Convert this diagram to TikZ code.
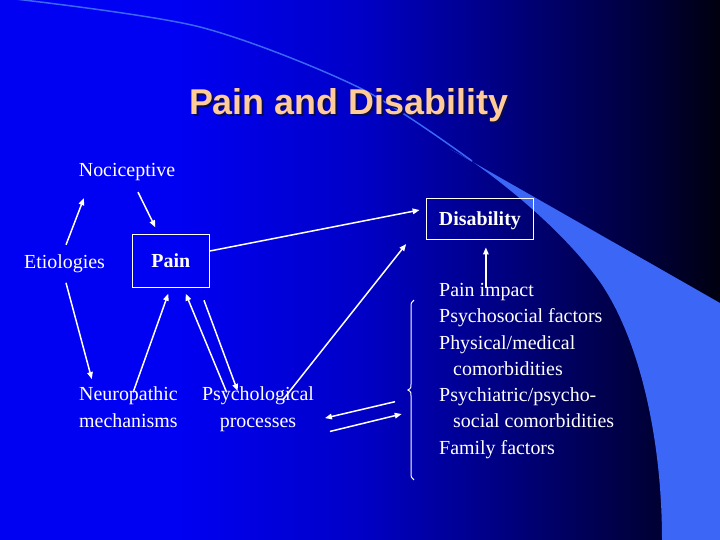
\documentclass[tikz,border=0pt]{standalone}
\usepackage{fontspec}
\setmainfont{Liberation Serif}
\newfontfamily\titlefont{Liberation Sans}
\usetikzlibrary{arrows.meta}
\newcommand\bodysize{\fontsize{20}{26.3}\selectfont}
\definecolor{slideblue}{RGB}{0,0,242}
\definecolor{swooshblue}{RGB}{59,102,246}
\definecolor{titlepeach}{RGB}{255,204,153}
\definecolor{titleshade}{RGB}{10,10,80}
\pgfdeclarehorizontalshading{slidebg}{100bp}{color(0bp)=(slideblue); color(37.5bp)=(slideblue); rgb(50bp)=(0,0,0.78); rgb(70.8bp)=(0,0,0.2); rgb(75bp)=(0,0,0.06); rgb(100bp)=(0,0,0.06)}

\begin{document}
\begin{tikzpicture}[
            x=1bp, y=-1bp,
            term/.style={text=white, font=\bodysize, inner sep=0pt},
            keybox/.style={draw=white, line width=1bp, text=white, font=\bodysize\bfseries, inner sep=0pt, text depth=0pt},
            heading/.style={font=\titlefont\bfseries\fontsize{36}{43}\selectfont, anchor=base},
            link/.style={-{Triangle[length=7bp,width=5.5bp]}, white, line width=1.5bp}
        ]
            \useasboundingbox (0,0) rectangle (720,540);
            \fill[shading=slidebg] (0,0) rectangle (720,540);
            % swoosh
            \fill[swooshblue] (450,149) -- (720,303) -- (720,540) -- (662,540) .. controls (662,440) and (640,340) .. (600,282) .. controls (570,240) and (520,195) .. (470,160) -- cycle;
            \draw[swooshblue, line width=1.5bp] plot[smooth] coordinates {(15,-1) (200,27) (360,88) (472,161)};

            \node (shadow) [heading, text=titleshade] at (350.5,117) {Pain and Disability};
            \node (title) [heading, text=titlepeach] at (348.5,115) {Pain and Disability};

            \node (noci) [term, anchor=base] at (127,177) {Nociceptive};
            \node (eti) [term, anchor=base] at (64.5,269) {Etiologies};
            \node (pain) [keybox, minimum width=77, minimum height=53] at (170.8,260.8) {Pain};
            \node (dis) [keybox, minimum width=108, minimum height=41] at (479.9,218.8) {Disability};
            \node (neuro) [term, anchor=base west, align=left] at (79,427) {Neuropathic\\mechanisms};
            \node (psych) [term, anchor=base, align=center] at (258,427) {Psychological\\processes};
            \node (impact) [term, anchor=base west, align=left] at (439,454) {Pain impact\\Psychosocial factors\\Physical/medical\\\hspace*{14bp}comorbidities\\Psychiatric/psycho-\\\hspace*{14bp}social comorbidities\\Family factors};

            % brace
            \draw[white, line width=1bp] (414,300) .. controls (411,301) and (411,304) .. (411,308) -- (411,384) .. controls (411,388) .. (408,390) .. controls (411,392) .. (411,396) -- (411,472) .. controls (411,476) and (411,479) .. (414,480);
            \coordinate (brin) at (401.7,414);
            \coordinate (brout) at (395,401.7);

            \draw[link, shorten <=11, shorten >=18] ([xshift=-2.4]eti.north) -- ([xshift=11.7]noci.south west);
            \draw[link, shorten <=11.9, shorten >=7.3] ([xshift=5.8]noci.south) -- ([xshift=-12.3]pain.north);
            \draw[link, shorten >=6.1] ([yshift=9.8]pain.east) -- ([yshift=10]dis.west);
            \draw[link, shorten <=9.7, shorten >=8] ([xshift=-1]eti.south) -- ([xshift=14.9]neuro.north west);
            \draw[link, shorten <=-6, shorten >=6.4] ([xshift=56.3]neuro.north west) -- ([xshift=-0.4]pain.south);
            \draw[link, shorten <=-6.1, shorten >=6.5] ([xshift=22.5]psych.north west) -- ([xshift=12.5]pain.south);
            \draw[link, shorten <=13.5, shorten >=-4.5] ([xshift=28.6]pain.south) -- ([xshift=-22]psych.north);
            \draw[link, shorten <=-16.2, shorten >=5.5] ([xshift=35.3]psych.north) -- ([xshift=-16.1]dis.south west);
            \draw[link, shorten >=11.2] (brout) -- ([yshift=-11.6]psych.east);
            \draw[link, shorten <=16.4] ([yshift=-26.3]psych.east) -- (brin);
            \draw[link, shorten <=-4.5, shorten >=7.7] ([xshift=6]dis.south |- impact.north) -- ([xshift=6]dis.south);
        \end{tikzpicture}
\end{document}
